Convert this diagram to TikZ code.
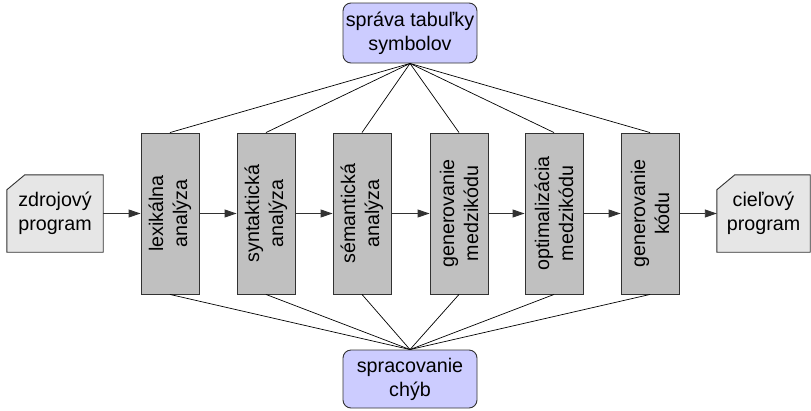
\documentclass[tikz,border=0pt]{standalone}
\usepackage{fontspec}
\setmainfont{Liberation Sans}
\usetikzlibrary{arrows.meta,backgrounds}
\definecolor{stagegray}{RGB}{192,192,192}
\definecolor{docgray}{RGB}{230,230,230}
\definecolor{lavender}{RGB}{204,204,255}
\definecolor{edgegray}{RGB}{50,50,50}
\begin{document}
\begin{tikzpicture}[x=1pt,y=-1pt,
  every node/.style={font=\fontsize{19.7}{24}\selectfont, inner sep=0pt},
  stagebox/.style={draw=edgegray, fill=stagegray, line width=0.9pt,
    minimum width=58pt, minimum height=161pt},
  stagetext/.style={rotate=90, align=center},
  docnode/.style={minimum width=#1, minimum height=77pt, align=center},
  docshape/.style={draw=edgegray, fill=docgray, line width=0.9pt},
  tablebox/.style={draw=edgegray, fill=lavender, line width=0.9pt,
    rounded corners=8pt, minimum width=134pt, align=center},
  flow/.style={draw=edgegray, line width=0.9pt, -{Triangle[length=12pt,width=8pt]}},
  link/.style={draw=black, line width=0.7pt}]
\useasboundingbox (0,0) rectangle (811,410);

% source and target program documents
\node[docnode=96pt] (src) at (55,213.5) {zdrojový\\program};
\node[docnode=93pt] (dst) at (763.5,213.5) {cieľový\\program};
\begin{scope}[on background layer]
  \path[docshape] ([yshift=-15pt]src.north west) -- ([xshift=18pt]src.north west)
    -- (src.north east) -- (src.south east) -- (src.south west) -- cycle;
  \path[docshape] ([yshift=-15pt]dst.north west) -- ([xshift=18pt]dst.north west)
    -- (dst.north east) -- (dst.south east) -- (dst.south west) -- cycle;
\end{scope}

% compiler phases
\node[stagebox] (s1) at (170,213.5) {};
\node[stagebox] (s2) at (266,213.5) {};
\node[stagebox] (s3) at (362,213.5) {};
\node[stagebox] (s4) at (459,213.5) {};
\node[stagebox] (s5) at (554,213.5) {};
\node[stagebox] (s6) at (650,213.5) {};
\node[stagetext] at (s1) {lexikálna\\analýza};
\node[stagetext] at (s2) {syntaktická\\analýza};
\node[stagetext] at (s3) {sémantická\\analýza};
\node[stagetext] at (s4) {generovanie\\medzikódu};
\node[stagetext] at (s5) {optimalizácia\\medzikódu};
\node[stagetext] at (s6) {generovanie\\kódu};

% symbol table and error handling
\node[tablebox, minimum height=60pt] (tab) at (410,33) {správa tabuľky\\symbolov};
\node[tablebox, minimum height=58pt] (err) at (410,379) {spracovanie\\chýb};

% data flow
\draw[flow] (src) -- (s1);
\draw[flow] (s1) -- (s2);
\draw[flow] (s2) -- (s3);
\draw[flow] (s3) -- (s4);
\draw[flow] (s4) -- (s5);
\draw[flow] (s5) -- (s6);
\draw[flow] (s6) -- (dst);

% links to the symbol table and error handling
\foreach \s in {s1,s2,s3,s4,s5,s6} {
  \draw[link] (tab.south) -- (\s.north);
  \draw[link] (err.north) -- (\s.south);
}
\end{tikzpicture}
\end{document}
